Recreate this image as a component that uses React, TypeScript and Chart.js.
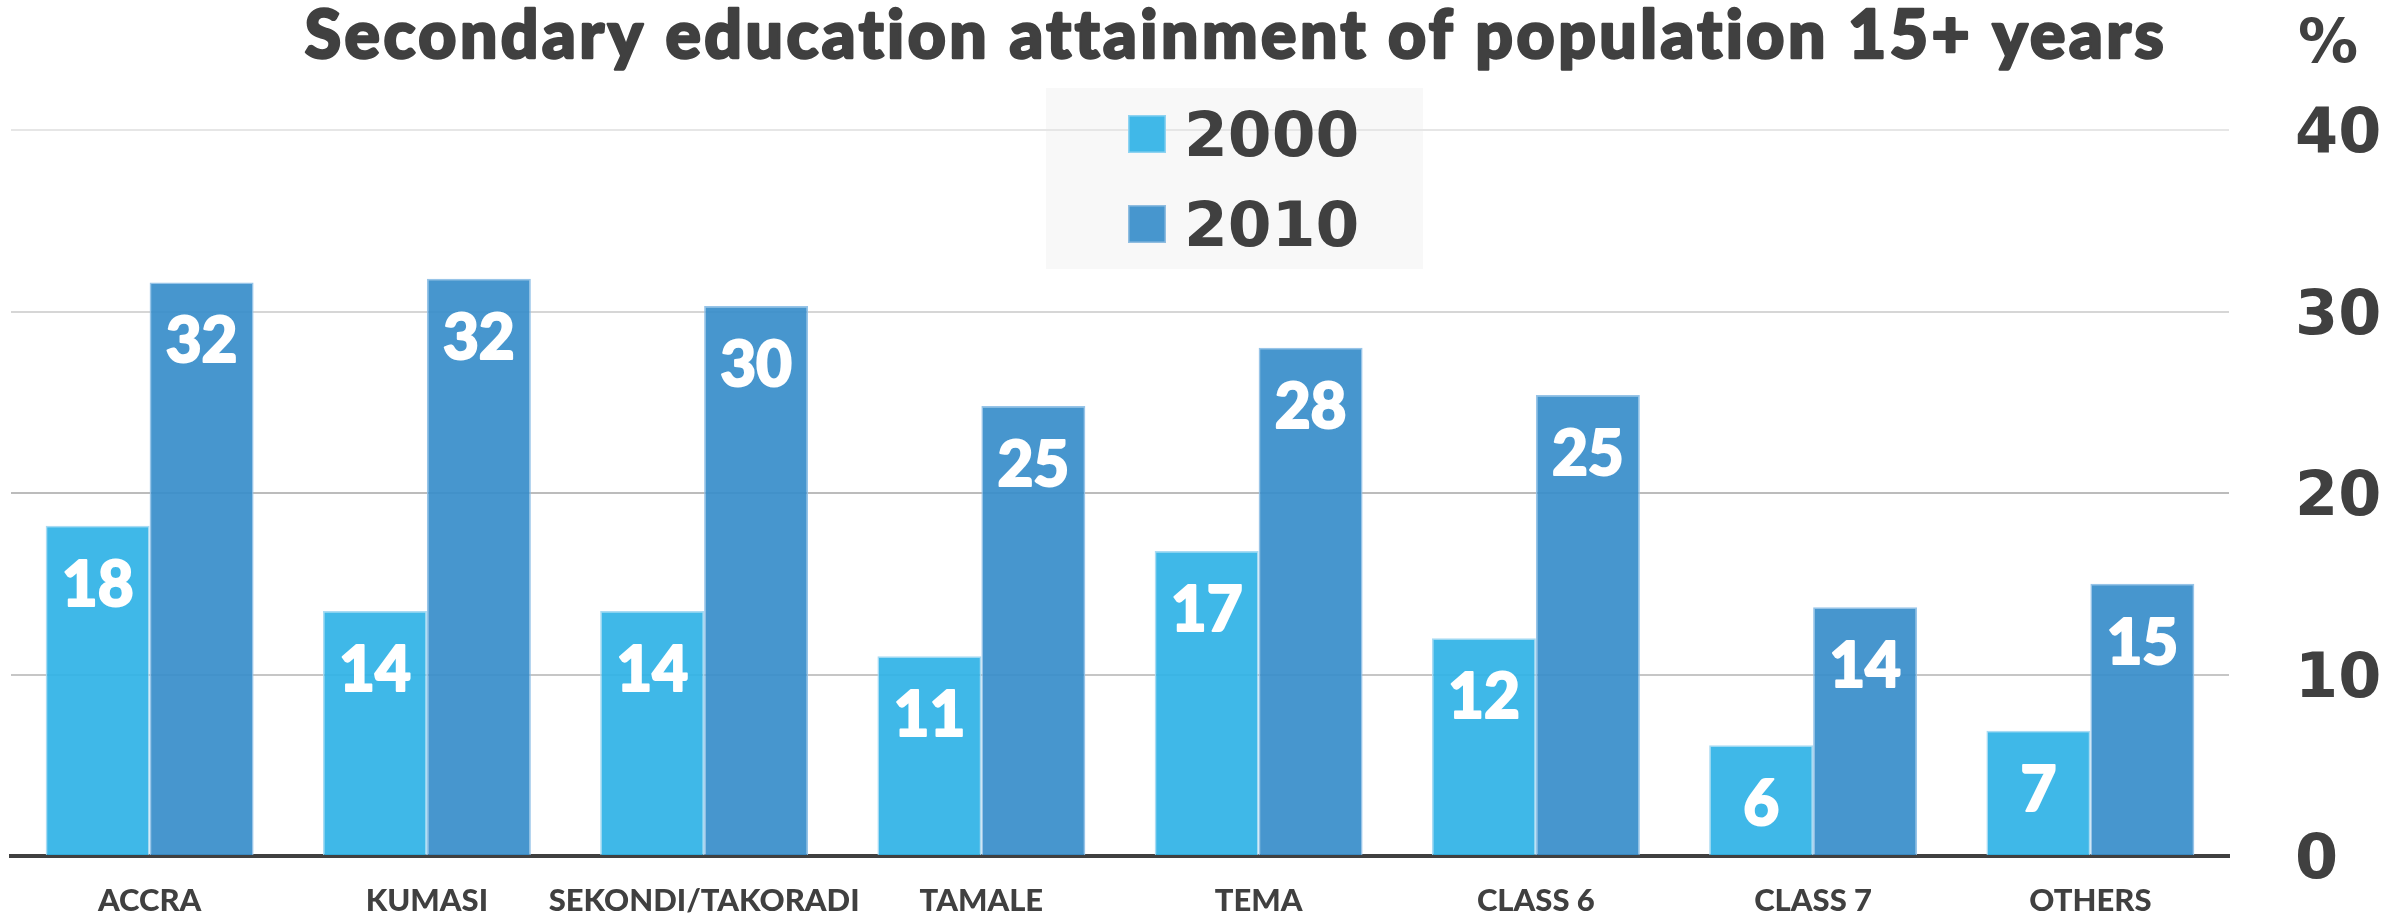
import React, { useEffect, useRef } from "react";
import { Chart, registerables } from "chart.js";

Chart.register(...registerables);

const categories = ["ACCRA", "KUMASI", "SEKONDI/TAKORADI", "TAMALE", "TEMA", "CLASS 6", "CLASS 7", "OTHERS"];
const seriesNames = ["2000", "2010"];
const values2000 = [18.2, 13.5, 13.5, 11.0, 16.8, 12.0, 6.1, 6.9];
const values2010 = [31.6, 31.8, 30.3, 24.8, 28.0, 25.4, 13.7, 15.0];
const yTicks = [0, 10, 20, 30, 40];
const titleText = "Secondary education attainment of population 15+ years";
const unitText = "%";

const solid2000 = "#40B8E8";
const solid2010 = "#4796CE";
const textColor = "#404040";

const overlayPlugin = {
  id: "overlay",
  beforeDraw(chart: any) {
    const ctx = chart.ctx;
    ctx.save();
    ctx.fillStyle = "#f8f8f8";
    ctx.fillRect(1046, 88, 377, 181);
    ctx.restore();
  },
  beforeDatasetsDraw(chart: any) {
    const ctx = chart.ctx;
    ctx.save();
    const colors = [solid2000, solid2010];
    const borders = ["#8fd3f1", "#90bde0"];
    const ys = [134, 224];
    ctx.font = "bold 63px 'DejaVu Sans'";
    ctx.textBaseline = "middle";
    ctx.textAlign = "left";
    seriesNames.forEach((name, i) => {
      ctx.fillStyle = colors[i];
      ctx.fillRect(1128, ys[i] - 19, 38, 38);
      ctx.strokeStyle = borders[i];
      ctx.lineWidth = 1.5;
      ctx.strokeRect(1128.75, ys[i] - 18.25, 36.5, 36.5);
      ctx.fillStyle = textColor;
      ctx.fillText(name, 1184, ys[i] + 6);
    });
    ctx.restore();
  },
  afterDatasetsDraw(chart: any) {
    const ctx = chart.ctx;
    ctx.save();
    ctx.font = "900 62px Lato";
    ctx.fillStyle = "#ffffff";
    ctx.strokeStyle = "#ffffff";
    ctx.lineWidth = 2;
    ctx.lineJoin = "round";
    ctx.textAlign = "center";
    ctx.textBaseline = "middle";
    chart.data.datasets.forEach((ds: any, di: number) => {
      const meta = chart.getDatasetMeta(di);
      meta.data.forEach((bar: any, i: number) => {
        const t = String(Math.round(ds.data[i]));
        ctx.fillText(t, bar.x, bar.y + 60);
        ctx.strokeText(t, bar.x, bar.y + 60);
      });
    });
    ctx.restore();
  },
  afterDraw(chart: any) {
    const ctx = chart.ctx;
    ctx.save();
    ctx.fillStyle = textColor;
    ctx.strokeStyle = textColor;
    ctx.lineWidth = 2.5;
    ctx.lineJoin = "round";
    ctx.textBaseline = "alphabetic";
    ctx.textAlign = "center";
    ctx.font = "900 66px Lato";
    (ctx as any).letterSpacing = "3.5px";
    ctx.fillText(titleText, 1236, 58);
    ctx.strokeText(titleText, 1236, 58);
    (ctx as any).letterSpacing = "0px";
    ctx.font = "bold 60px 'DejaVu Sans'";
    ctx.fillText(unitText, 2328, 62);
    ctx.restore();
  },
};

const gridColors: Record<number, string> = {
  0: "rgba(0,0,0,0)",
  10: "#c6c6c6",
  20: "#bcbcbc",
  30: "#d6d6d6",
  40: "#e6e6e6",
};

export default function App() {
  const ref = useRef<HTMLCanvasElement | null>(null);
  useEffect(() => {
    document.body.style.margin = "0";
    const canvas = ref.current;
    if (!canvas) return;
    const chart = new Chart(canvas, {
      type: "bar",
      data: {
        labels: categories,
        datasets: [
          {
            label: seriesNames[0],
            data: values2000,
            backgroundColor: "rgba(47,178,230,0.92)",
            borderColor: "rgba(160,215,242,0.9)",
            borderWidth: 1.5,
            barPercentage: 1,
            categoryPercentage: 0.75,
          },
          {
            label: seriesNames[1],
            data: values2010,
            backgroundColor: "rgba(55,141,202,0.92)",
            borderColor: "rgba(140,190,230,0.9)",
            borderWidth: 1.5,
            barPercentage: 1,
            categoryPercentage: 0.75,
          },
        ],
      },
      options: {
        responsive: false,
        animation: false,
        devicePixelRatio: 1,
        layout: { autoPadding: false, padding: { top: 130, left: 11, right: 0, bottom: 0 } },
        plugins: {
          legend: { display: false },
          title: { display: false },
          tooltip: { enabled: false },
        },
        scales: {
          x: {
            afterFit: (scale: any) => {
              scale.height = 60;
              scale.paddingLeft = 0;
              scale.paddingRight = 0;
            },
            grid: { display: false, drawTicks: false },
            border: { display: true, color: textColor, width: 4 },
            ticks: {
              color: textColor,
              font: { family: "Lato", weight: "900", size: 31 },
              padding: 26,
              maxRotation: 0,
              autoSkip: false,
            },
          },
          y: {
            position: "right",
            min: 0,
            max: 40,
            afterBuildTicks: (scale: any) => {
              scale.ticks = yTicks.map((v) => ({ value: v }));
            },
            afterFit: (scale: any) => {
              scale.width = 173;
              scale.paddingTop = 0;
              scale.paddingBottom = 0;
            },
            border: { display: false },
            grid: {
              drawTicks: false,
              lineWidth: 2,
              color: (c: any) => gridColors[c.tick ? c.tick.value : 0] || "#d0d0d0",
            },
            ticks: {
              color: textColor,
              font: { family: "DejaVu Sans", weight: "bold", size: 62, lineHeight: "12px" },
              padding: 66,
              callback: (v: any) => ["", String(v)],
            },
          },
        },
      },
      plugins: [overlayPlugin],
    } as any);
    return () => chart.destroy();
  }, []);
  return (
    <div style={{ width: 2402, height: 916 }}>
      <canvas ref={ref} width={2402} height={916} style={{ display: "block" }} />
    </div>
  );
}
